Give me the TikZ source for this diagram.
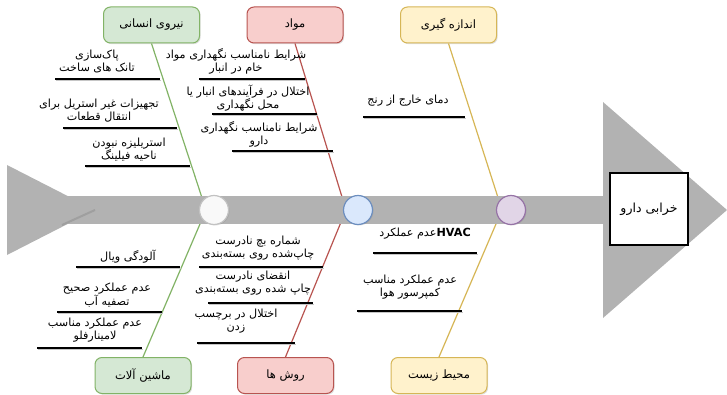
\documentclass[tikz,border=0pt]{standalone}
\usepackage{fontspec}
\usetikzlibrary{shadows, positioning}
\TeXXeTstate=1
\newfontfamily\farsi[Script=Arabic]{DejaVu Sans}
\newcommand{\fa}[1]{\beginR#1\endR}
\definecolor{fbGreen}{HTML}{82B366}
\definecolor{fbGreenFill}{HTML}{D5E8D4}
\definecolor{fbRed}{HTML}{B85450}
\definecolor{fbRedFill}{HTML}{F8CECC}
\definecolor{fbYellow}{HTML}{D6B656}
\definecolor{fbYellowFill}{HTML}{FFF2CC}
\definecolor{fbBlue}{HTML}{6C8EBF}
\definecolor{fbBlueFill}{HTML}{DAE8FC}
\definecolor{fbPurple}{HTML}{9673A6}
\definecolor{fbPurpleFill}{HTML}{E1D5E7}
\tikzset{
  % the fish body, the boxes and the little cause labels
  catbox/.style   = {rectangle, rounded corners=7pt, minimum width=96pt, minimum height=36pt,
                     line width=1pt, font=\farsi\fontsize{11.5}{13}\selectfont,
                     drop shadow={opacity=0.25, shadow xshift=1.2pt, shadow yshift=-1.2pt}},
  catgreen/.style = {catbox, draw=fbGreen, fill=fbGreenFill},
  catred/.style   = {catbox, draw=fbRed, fill=fbRedFill},
  catyellow/.style= {catbox, draw=fbYellow, fill=fbYellowFill},
  bone/.style     = {line width=1.2pt},
  joint/.style    = {circle, minimum size=29pt, inner sep=0pt, line width=1.2pt,
                     drop shadow={opacity=0.25, shadow xshift=1pt, shadow yshift=-1pt}},
  cause/.style    = {align=center, inner sep=0pt, font=\farsi\fontsize{11.2}{13}\selectfont},
  uline/.style    = {line width=1.4pt, black,
                     preaction={draw, gray!45, line width=1.4pt,
                                transform canvas={shift={(0.8pt,-1.3pt)}}}},
}
\begin{document}
\begin{tikzpicture}[x=1pt,y=-1pt]
  \useasboundingbox (0,0) rectangle (727,395);
  % tail and head
  \fill[gray!60] (7,165) -- (95,210) -- (7,255) -- cycle;
  \fill[gray!60] (603,102) -- (727,210) -- (603,318) -- cycle;
  % category boxes
  \node[catgreen]  (hum)  at (151.5,25)  {\fa{نیروی انسانی}};
  \node[catred]    (mat)  at (295,25)    {\fa{مواد}};
  \node[catyellow] (meas) at (448.5,25)  {\fa{اندازه گیری}};
  \node[catgreen]  (mach) at (143,375.5) {\fa{ماشین آلات}};
  \node[catred]    (meth) at (285.5,375.5) {\fa{روش ها}};
  \node[catyellow] (env)  at (439,375.5) {\fa{محیط زیست}};
  % where the bones meet the spine
  \coordinate (j1) at (206,210);
  \coordinate (j2) at (346,210);
  \coordinate (j3) at (502,210);
  \draw[bone, fbGreen]  (hum.south)  -- (j1) -- (mach.north);
  \draw[bone, fbRed]    (mat.south)  -- (j2) -- (meth.north);
  \draw[bone, fbYellow] (meas.south) -- (j3) -- (env.north);
  % spine
  \fill[gray!60] (68,196) rectangle (604,224);
  \draw[gray!75, line width=2pt] (62,225) -- (95,210);
  \node[joint, draw=gray!120!black!60, fill=gray!5] (c1) at (214,210) {};
  \node[joint, draw=fbBlue, fill=fbBlueFill]        (c2) at (358,210) {};
  \node[joint, draw=fbPurple, fill=fbPurpleFill]    (c3) at (511,210) {};
  % effect
  \node[draw, line width=1.4pt, fill=white, minimum width=78pt, minimum height=72pt,
        font=\farsi\fontsize{12.5}{14}\selectfont,
        drop shadow={opacity=0.3, shadow xshift=1.2pt, shadow yshift=-1.2pt}]
        (effect) at (649,209) {\fa{خرابی دارو}};

  % causes: people
  \node[cause] (g1) at (97,61)  {\fa{پاک‌سازی}\\\fa{تانک های ساخت}};
  \draw[uline] (55,79) -- (160,79);
  \node[cause] (g2) at (99,111) {\fa{تجهیزات غیر استریل برای}\\\fa{انتقال قطعات}};
  \draw[uline] (63,128) -- (177,128);
  \node[cause] (g3) at (129,150) {\fa{استریلیزه نبودن}\\\fa{ناحیه فیلینگ}};
  \draw[uline] (85,166) -- (190,166);
  % causes: materials
  \node[cause] (r1) at (236,61) {\fa{شرایط نامناسب نگهداری مواد}\\\fa{خام در انبار}};
  \draw[uline] (199,79) -- (305,79);
  \node[cause] (r2) at (248,98.5) {\fa{اختلال در فرآیندهای انبار یا}\\\fa{محل نگهداری}};
  \draw[uline] (212,114) -- (317,114);
  \node[cause] (r3) at (259,134.5) {\fa{شرایط نامناسب نگهداری}\\\fa{دارو}};
  \draw[uline] (232,151) -- (333,151);
  % causes: measurement
  \node[cause] (y1) at (408,101) {\fa{دمای خارج از رنج}};
  \draw[uline] (363,117) -- (465,117);
  % causes: machines
  \node[cause] (mg1) at (128,257) {\fa{آلودگی ویال}};
  \draw[uline] (76,267) -- (180,267);
  \node[cause] (mg2) at (107,295.5) {\fa{عدم عملکرد صحیح}\\\fa{تصفیه آب}};
  \draw[uline] (57,312) -- (162,312);
  \node[cause] (mg3) at (95,330) {\fa{عدم عملکرد مناسب}\\\fa{لامینارفلو}};
  \draw[uline] (37,348) -- (142,348);
  % causes: methods
  \node[cause] (mr1) at (258,248.5) {\fa{شماره بچ نادرست}\\\fa{چاپ‌شده روی بسته‌بندی}};
  \draw[uline] (199,267) -- (323,267);
  \node[cause] (mr2) at (253,283) {\fa{انقضای نادرست}\\\fa{چاپ شده روی بسته‌بندی}};
  \draw[uline] (208,303) -- (313,303);
  \node[cause] (mr3) at (236,321.5) {\fa{اختلال در برچسب}\\\fa{زدن}};
  \draw[uline] (197,343) -- (295,343);
  % causes: environment
  \node[cause] (my1) at (425,234) {\fa{\beginL\textbf{\fontspec{DejaVu Sans}HVAC}\endL عدم عملکرد}};
  \draw[uline] (373,253) -- (477,253);
  \node[cause] (my2) at (410,287) {\fa{عدم عملکرد مناسب}\\\fa{کمپرسور هوا}};
  \draw[uline] (357,311) -- (462,311);
\end{tikzpicture}
\end{document}
